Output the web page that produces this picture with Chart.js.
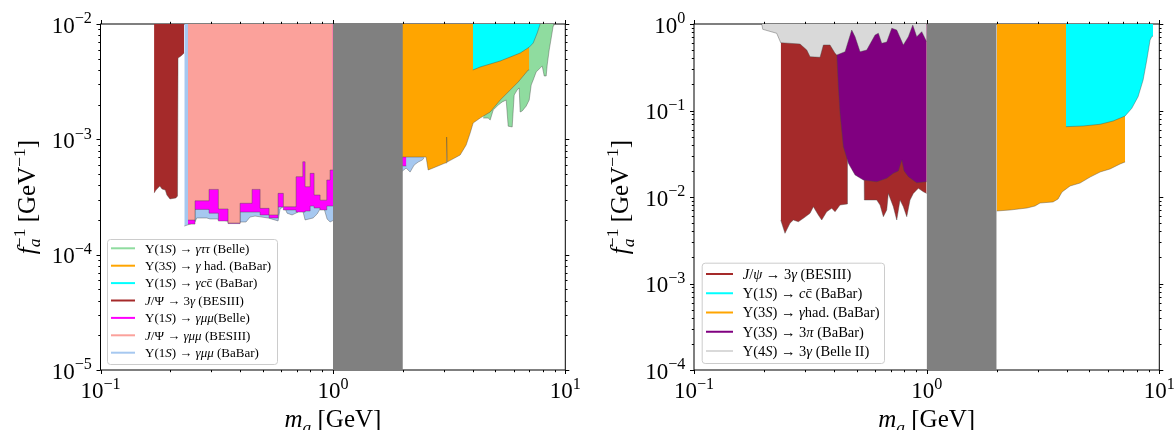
<!DOCTYPE html>
<html>
<head>
<meta charset="utf-8">
<script src="https://cdn.jsdelivr.net/npm/chart.js@4.4.1/dist/chart.umd.min.js"></script>
<style>
  html, body { margin: 0; padding: 0; background: #fff; }
  #wrap { position: relative; width: 1174px; height: 430px; overflow: hidden; }
  canvas { position: absolute; top: 0; }
  #leftChart { left: 0; }
  #rightChart { left: 587px; }
</style>
</head>
<body>
<div id="wrap">
  <canvas id="leftChart" width="587" height="430"></canvas>
  <canvas id="rightChart" width="587" height="430"></canvas>
</div>
<script>
// ---- axes ----
const xRange = [0.1, 10];
const leftYRange = [1e-5, 1e-2];
const rightYRange = [1e-4, 1];
const xTickPowers = [-1, 0, 1];
const leftYTickPowers = [-5, -4, -3, -2];
const rightYTickPowers = [-4, -3, -2, -1, 0];
const bandX = [1, 2];   // gray band, m_a in GeV

// ---- left panel: lower edges of the excluded regions (m_a [GeV], f_a^-1 [GeV^-1]) ----
const brownLX = [0.170, 0.1733, 0.180, 0.184, 0.190, 0.193, 0.199, 0.211, 0.2145, 0.2156, 0.222, 0.229];
const brownLY = [3.42e-4, 3.63e-4, 3.94e-4, 3.71e-4, 3.63e-4, 3.29e-4, 3.04e-4, 3.10e-4, 3.22e-4, 5.07e-3, 5.28e-3, 5.6e-3];

const pinkX = [0.238, 0.2551, 0.2931, 0.3214, 0.3539, 0.3986, 0.449, 0.4861, 0.5314, 0.5809, 0.6121, 0.6944, 0.742, 0.7591, 0.798, 0.8301, 0.881, 0.9412, 0.9725, 1.0];
const pinkY = [1.995e-4, 2.93e-4, 3.68e-4, 2.49e-4, 1.88e-4, 2.79e-4, 3.68e-4, 2.52e-4, 2.21e-4, 3.40e-4, 2.60e-4, 4.74e-4, 6.39e-4, 3.88e-4, 5.07e-4, 3.29e-4, 2.97e-4, 4.44e-4, 5.42e-4, 5.42e-4];

const magentaX = [0.238, 0.2551, 0.2931, 0.3214, 0.3539, 0.3986, 0.4861, 0.5314, 0.5809, 0.6121, 0.6944, 0.7591, 0.798, 0.8301, 0.881, 0.9412, 1.0, 1.9, 2.07];
const magentaY = [1.84e-4, 2.47e-4, 2.29e-4, 1.96e-4, 1.86e-4, 2.34e-4, 2.21e-4, 2.08e-4, 2.59e-4, 2.44e-4, 2.34e-4, 2.39e-4, 2.64e-4, 2.54e-4, 2.44e-4, 2.64e-4, 2.64e-4, 5.87e-4, 5.87e-4];

const blueX = [0.2294, 0.2428, 0.2551, 0.2594, 0.2865, 0.296, 0.3164, 0.3504, 0.3986, 0.4229, 0.4401, 0.4625, 0.5263, 0.5809, 0.5925, 0.6164, 0.635, 0.6673, 0.7083, 0.7225, 0.7443, 0.7591, 0.8219, 0.8551, 0.881, 0.8985, 0.9256, 0.9441, 0.9725, 1.5, 1.9, 2.066, 2.149, 2.236, 2.327, 2.421, 2.47];
const blueY = [1.77e-4, 1.84e-4, 1.92e-4, 2.08e-4, 2.08e-4, 2.04e-4, 2.04e-4, 1.96e-4, 1.92e-4, 1.92e-4, 2.12e-4, 2.16e-4, 2.08e-4, 1.96e-4, 2.49e-4, 2.64e-4, 2.29e-4, 2.21e-4, 2.34e-4, 2.69e-4, 2.34e-4, 2.0e-4, 2.08e-4, 2.25e-4, 2.49e-4, 2.86e-4, 2.34e-4, 2.04e-4, 1.92e-4, 3.0e-4, 4.90e-4, 5.64e-4, 5.20e-4, 5.98e-4, 6.35e-4, 6.61e-4, 6.88e-4];

const orangeLX = [1.95, 2.518, 2.57, 2.70, 3.041, 3.071, 3.086, 3.101, 3.528, 3.745, 3.896, 4.013, 4.302, 4.751, 5.246, 5.679, 6.271, 6.925, 6.993];
const orangeLY = [7.02e-4, 7.02e-4, 5.42e-4, 5.64e-4, 6.23e-4, 6.23e-4, 1.047e-3, 6.35e-4, 7.31e-4, 8.93e-4, 1.134e-3, 1.385e-3, 1.53e-3, 1.725e-3, 2.19e-3, 2.57e-3, 3.14e-3, 3.99e-3, 3.99e-3];

const cyanLX = [4.0, 4.302, 4.751, 5.246, 5.79, 6.394, 6.993, 7.275, 7.568, 7.797];
const cyanLY = [3.99e-3, 4.24e-3, 4.50e-3, 4.78e-3, 5.17e-3, 5.60e-3, 6.3e-3, 6.84e-3, 8.35e-3, 1e-2];

const greenX = [4.433, 4.657, 4.751, 4.895, 5.143, 5.352, 5.568, 5.679, 5.909, 6.026, 6.208, 6.332, 6.394, 6.523, 6.785, 6.993, 7.133, 7.275, 7.494, 7.797, 7.955, 8.114, 8.276, 8.358, 8.525, 8.697, 8.87, 8.924];
const greenY = [1.53e-3, 1.53e-3, 1.47e-3, 1.795e-3, 1.98e-3, 2.11e-3, 2.19e-3, 1.30e-3, 1.28e-3, 2.42e-3, 2.68e-3, 2.79e-3, 1.725e-3, 1.76e-3, 1.94e-3, 2.19e-3, 2.96e-3, 3.27e-3, 3.84e-3, 4.15e-3, 4.32e-3, 3.54e-3, 3.54e-3, 4.41e-3, 5.95e-3, 7.56e-3, 9.61e-3, 1e-2];

// ---- right panel ----
const brownRX = [0.2359, 0.2461, 0.2586, 0.2672, 0.2809, 0.2952, 0.3154, 0.3259, 0.3423, 0.354, 0.3719, 0.3908, 0.4038, 0.4244, 0.4561, 0.4567, 0.5365, 0.5397, 0.6102, 0.6305, 0.6514, 0.6737, 0.6843, 0.7191, 0.7438, 0.7684, 0.794, 0.8213, 0.8484, 0.8765, 0.9211, 0.9678, 1.0];
const brownRY = [5.42e-3, 3.80e-3, 4.97e-3, 5.42e-3, 5.18e-3, 5.67e-3, 6.48e-3, 7.72e-3, 6.19e-3, 5.42e-3, 6.76e-3, 7.40e-3, 6.76e-3, 8.08e-3, 8.30e-3, 7.77e-2, 7.77e-2, 9.23e-3, 9.23e-3, 8.08e-3, 5.92e-3, 7.07e-3, 1.10e-2, 7.72e-3, 5.42e-3, 9.23e-3, 7.72e-3, 5.92e-3, 9.23e-3, 1.10e-2, 1.26e-2, 1.15e-2, 1.10e-2];

const purpleX = [0.4108, 0.4174, 0.4244, 0.4386, 0.4608, 0.4923, 0.5345, 0.6102, 0.6737, 0.7191, 0.7557, 0.7818, 0.80, 0.8346, 0.9066, 0.991, 1.0];
const purpleY = [0.4584, 0.1884, 9.28e-2, 3.82e-2, 2.45e-2, 1.80e-2, 1.57e-2, 1.50e-2, 1.645e-2, 1.88e-2, 2.0e-2, 2.68e-2, 2.0e-2, 1.72e-2, 1.46e-2, 1.50e-2, 1.50e-2];

const belleX = [0.1955, 0.1975, 0.2267, 0.2359, 0.2856, 0.3053, 0.3154, 0.3482, 0.3598, 0.3843, 0.4038, 0.4108, 0.446, 0.4764, 0.4923, 0.5173, 0.5526, 0.6002, 0.6201, 0.6412, 0.6737, 0.7079, 0.7438, 0.794, 0.8346, 0.8715, 0.9066, 0.9526, 1.0];
const belleY = [1.0, 0.868, 0.781, 0.608, 0.587, 0.5, 0.419, 0.412, 0.572, 0.572, 0.4584, 0.438, 0.478, 0.852, 0.713, 0.478, 0.5, 0.746, 0.781, 0.598, 0.619, 0.892, 0.852, 0.572, 0.713, 0.974, 0.713, 0.815, 0.624];

const orangeRX = [2.0, 2.283, 2.702, 2.924, 3.072, 3.494, 3.671, 3.819, 4.135, 4.566, 5.042, 5.567, 6.146, 6.785, 7.129];
const orangeRY = [6.89e-3, 7.07e-3, 7.46e-3, 7.87e-3, 8.52e-3, 8.76e-3, 9.48e-3, 1.142e-2, 1.34e-2, 1.45e-2, 1.70e-2, 1.945e-2, 2.11e-2, 2.41e-2, 2.54e-2];

const cyanRX = [3.97, 4.704, 5.567, 6.33, 7.129, 7.618, 8.106, 8.52, 8.837, 9.13, 9.28, 9.40];
const cyanRY = [6.50e-2, 6.62e-2, 6.93e-2, 7.56e-2, 8.64e-2, 0.106, 0.1444, 0.2253, 0.3836, 0.653, 0.713, 0.727];

const leftLegend = [
  ['Υ(1*S*) → *γττ* (Belle)', '#8fdc9f'],
  ['Υ(3*S*) → *γ* had. (BaBar)', '#ffa500'],
  ['Υ(1*S*) → *γc*c̄ (BaBar)', '#00ffff'],
  ['*J*/Ψ → 3*γ* (BESIII)', '#a52a2a'],
  ['Υ(1*S*) → *γμμ*(Belle)', '#ff00ff'],
  ['*J*/Ψ → *γμμ* (BESIII)', '#fba19b'],
  ['Υ(1*S*) → *γμμ* (BaBar)', '#a6c8f0']
];
const rightLegend = [
  ['*J*/*ψ* → 3*γ* (BESIII)', '#a52a2a'],
  ['Υ(1*S*) → *c*c̄ (BaBar)', '#00ffff'],
  ['Υ(3*S*) → *γ*had. (BaBar)', '#ffa500'],
  ['Υ(3*S*) → 3*π* (BaBar)', '#800080'],
  ['Υ(4*S*) → 3*γ* (Belle II)', '#d9d9d9']
];

const FONT = '"Liberation Serif", "DejaVu Serif", serif';

// tiny markup: *italic*, ^superscript^, _subscript_
function parseRich(str) {
  const segs = [];
  let it = false, sup = false, sub = false, buf = '';
  const push = () => { if (buf) segs.push({ t: buf, it, sup, sub }); buf = ''; };
  for (const ch of str) {
    if (ch === '*') { push(); it = !it; }
    else if (ch === '^') { push(); sup = !sup; }
    else if (ch === '_') { push(); sub = !sub; }
    else buf += ch;
  }
  push();
  return segs;
}

function layoutRich(ctx, str, size) {
  const segs = parseRich(str);
  let x = 0, prev = null, subStart = 0, right = 0;
  for (const s of segs) {
    const fs = (s.sup || s.sub) ? size * 0.7 : size;
    ctx.font = (s.it ? 'italic ' : '') + fs + 'px ' + FONT;
    const stacked = s.sup && prev && prev.sub;
    if (stacked) x = subStart;
    if (s.sub) subStart = x;
    s.x = x;
    s.fs = fs;
    s.dy = s.sup ? -size * 0.4 : (s.sub ? size * 0.22 : 0);
    x += ctx.measureText(s.t).width;
    right = Math.max(right, x);
    if (stacked) x = right;
    prev = s;
  }
  return { segs, width: right };
}

function drawRich(ctx, str, x, y, size, align, color) {
  const L = layoutRich(ctx, str, size);
  const x0 = align === 'center' ? x - L.width / 2 : (align === 'right' ? x - L.width : x);
  ctx.fillStyle = color || '#000';
  ctx.textBaseline = 'alphabetic';
  ctx.textAlign = 'left';
  for (const s of L.segs) {
    ctx.font = (s.it ? 'italic ' : '') + s.fs + 'px ' + FONT;
    ctx.fillText(s.t, x0 + s.x, y + s.dy);
  }
}

const powLabel = p => '10^' + (p < 0 ? '−' + (-p) : String(p)) + '^';

const framePlugin = {
  id: 'frame',
  beforeDatasetsDraw(chart) {
    const a = chart.chartArea, c = chart.ctx;
    c.save();
    c.strokeStyle = '#000';
    c.lineWidth = 1;
    c.strokeRect(a.left, a.top, a.right - a.left, a.bottom - a.top);
    c.restore();
  },
  afterDraw(chart, args, o) {
    const a = chart.chartArea, c = chart.ctx;
    const sx = chart.scales.x, sy = chart.scales.y;
    c.save();
    c.strokeStyle = '#000';
    c.lineWidth = 1;
    const ticks = (min, max) => {
      const out = [];
      for (let e = Math.round(Math.log10(min)); e < Math.round(Math.log10(max)); e++) {
        for (let m = 1; m < 10; m++) out.push({ v: m * Math.pow(10, e), major: m === 1 });
      }
      out.push({ v: max, major: true });
      return out;
    };
    c.beginPath();
    for (const t of ticks(sx.min, sx.max)) {
      const px = Math.round(sx.getPixelForValue(t.v)) + 0.5;
      const len = t.major ? 4 : 2.2;
      c.moveTo(px, a.bottom); c.lineTo(px, a.bottom + len);
      c.moveTo(px, a.top); c.lineTo(px, a.top - len);
    }
    for (const t of ticks(sy.min, sy.max)) {
      const py = Math.round(sy.getPixelForValue(t.v)) + 0.5;
      const len = t.major ? 4 : 2.2;
      c.moveTo(a.left, py); c.lineTo(a.left - len, py);
      c.moveTo(a.right, py); c.lineTo(a.right + len, py);
    }
    c.stroke();

    for (const p of o.xPowers) {
      drawRich(c, powLabel(p), sx.getPixelForValue(Math.pow(10, p)), a.bottom + 27.7, 23, 'center');
    }
    for (const p of o.yPowers) {
      drawRich(c, powLabel(p), a.left - 8.7, sy.getPixelForValue(Math.pow(10, p)) + 8.5, 23, 'right');
    }
    drawRich(c, '*m*_*a*_ [GeV]', (a.left + a.right) / 2, a.bottom + 57, 25, 'center');
    c.save();
    c.translate(a.left - 66, (a.top + a.bottom) / 2);
    c.rotate(-Math.PI / 2);
    drawRich(c, '*f*_*a*_^−1^ [GeV^−1^]', 0, 0, 25, 'center');
    c.restore();

    // legend
    const g = o.legend;
    c.beginPath();
    c.roundRect(g.x + 0.5, g.y + 0.5, g.w, g.h, 3);
    c.fillStyle = 'rgba(255,255,255,0.8)';
    c.fill();
    c.strokeStyle = '#cccccc';
    c.lineWidth = 1;
    c.stroke();
    g.items.forEach((it, i) => {
      const y = g.row0 + i * g.gap;
      c.beginPath();
      c.strokeStyle = it[1];
      c.lineWidth = 2;
      c.moveTo(g.line0, y); c.lineTo(g.line1, y);
      c.stroke();
      drawRich(c, it[0], g.text, y + g.size * 0.33, g.size, 'left');
    });
    c.restore();
  }
};

const pts = (xs, ys) => xs.map((x, i) => ({ x, y: ys[i] }));

function region(label, xs, ys, color, extra) {
  return Object.assign({
    label,
    data: pts(xs, ys),
    fill: 'end',
    backgroundColor: color,
    borderColor: 'rgba(70,70,70,0.5)',
    borderWidth: 0.8,
    pointRadius: 0,
    tension: 0
  }, extra || {});
}

function makeChart(id, yRange, datasets, padding, yPowers, legend) {
  return new Chart(document.getElementById(id), {
    type: 'line',
    data: { datasets },
    plugins: [framePlugin],
    options: {
      responsive: false,
      animation: false,
      devicePixelRatio: 1,
      layout: { padding },
      scales: {
        x: { type: 'logarithmic', min: xRange[0], max: xRange[1], display: false },
        y: { type: 'logarithmic', min: yRange[0], max: yRange[1], display: false }
      },
      plugins: {
        legend: { display: false },
        tooltip: { enabled: false },
        frame: { xPowers: xTickPowers, yPowers, legend }
      }
    }
  });
}

// first dataset is drawn on top
makeChart('leftChart', leftYRange, [
  region('band', bandX, [leftYRange[0], leftYRange[0]], '#808080', { borderWidth: 0 }),
  region('Upsilon(1S) -> gamma c cbar (BaBar)', cyanLX, cyanLY, '#00ffff'),
  region('Upsilon(3S) -> gamma had. (BaBar)', orangeLX, orangeLY, '#ffa500'),
  region('Upsilon(1S) -> gamma tau tau (Belle)', greenX, greenY, '#8fdc9f'),
  region('J/Psi -> gamma mu mu (BESIII)', pinkX, pinkY, '#fba19b', { stepped: true }),
  region('Upsilon(1S) -> gamma mu mu (Belle)', magentaX, magentaY, '#ff00ff', { stepped: true }),
  region('Upsilon(1S) -> gamma mu mu (BaBar)', blueX, blueY, '#a6c8f0'),
  region('J/Psi -> 3 gamma (BESIII)', brownLX, brownLY, '#a52a2a')
], { left: 100.5, right: 21.7, top: 24, bottom: 60 }, leftYTickPowers,
  { x: 107, y: 239, w: 170, h: 125, row0: 248.3, gap: 17.4, line0: 111, line1: 135, text: 145, size: 13, items: leftLegend });

makeChart('rightChart', rightYRange, [
  region('band', bandX, [rightYRange[0], rightYRange[0]], '#808080', { borderWidth: 0 }),
  region('Upsilon(4S) -> 3 gamma (Belle II)', belleX, belleY, '#d9d9d9'),
  region('Upsilon(1S) -> c cbar (BaBar)', cyanRX, cyanRY, '#00ffff'),
  region('Upsilon(3S) -> gamma had. (BaBar)', orangeRX, orangeRY, '#ffa500'),
  region('Upsilon(3S) -> 3 pi (BaBar)', purpleX, purpleY, '#800080'),
  region('J/psi -> 3 gamma (BESIII)', brownRX, brownRY, '#a52a2a')
], { left: 107, right: 14.7, top: 24, bottom: 60 }, rightYTickPowers,
  { x: 114.7, y: 262.7, w: 182.3, h: 100.3, row0: 274, gap: 19.25, line0: 119, line1: 146, text: 155.7, size: 14.5, items: rightLegend });
</script>
</body>
</html>
